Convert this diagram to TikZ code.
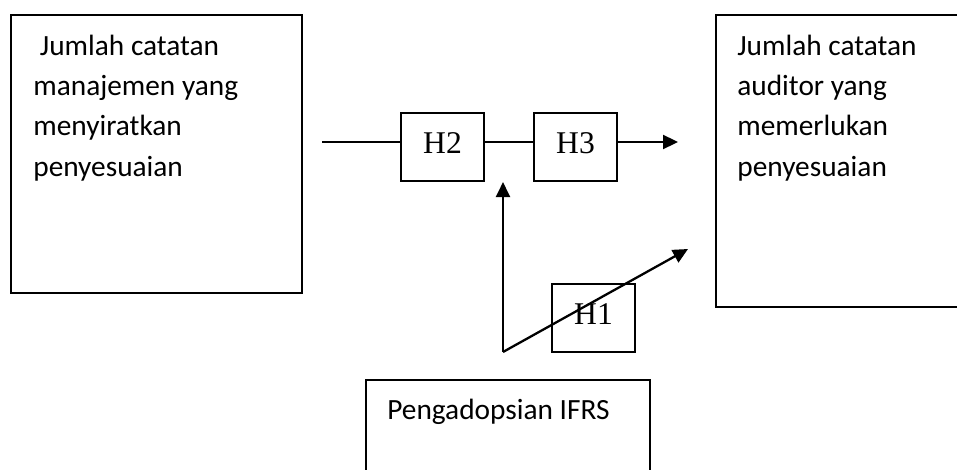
\documentclass[tikz,border=0pt]{standalone}
\usepackage{fontspec}
\setmainfont{Liberation Serif}
\newfontfamily\carlito{Carlito}
\usetikzlibrary{arrows.meta}

\begin{document}
\begin{tikzpicture}[x=0.02cm, y=-0.02cm,
block/.style={rectangle, draw=black, line width=1.2pt, inner sep=0pt},
block-big/.style={block, minimum width=5.82cm, minimum height=5.56cm},
block-h/.style={block, minimum width=1.66cm, minimum height=1.36cm,
text depth=0.16cm, font=\fontsize{18}{20}\selectfont},
blank/.style={anchor=base west, inner sep=0pt, align=left,
font=\carlito\fontsize{16.7}{22.8}\selectfont},
link/.style={line width=1.3pt},
arrow/.style={link, -{Triangle[length=0.3cm, width=0.28cm]}}
]
\useasboundingbox (0,0) rectangle (957,470);

% the three variable boxes (text nodes sit on their last baseline)
\node [block-big] (mgmt) at (156.5,154) {};
\node [blank] (mgmt-txt) at (33,176) {\ Jumlah catatan\\manajemen yang\\menyiratkan\\penyesuaian};
\node [block, minimum width=5.28cm, minimum height=5.84cm] (aud) at (848,161) {};
\node [blank] (aud-txt) at (737,176) {Jumlah catatan\\auditor yang\\memerlukan\\penyesuaian};
\node [block, minimum width=5.68cm, minimum height=2.2cm] (ifrs) at (508,435) {};
\node [blank] (ifrs-txt) at (387,419) {Pengadopsian IFRS};

% hypotheses
\node [block-h] (h2) at (442.5,147) {H2};
\node [block-h] (h3) at (575.5,147) {H3};
\node [block-h] (h1) at (593.5,318) {H1};

\coordinate (start) at (322,142);
\coordinate (end) at (678,142);
\coordinate (joint) at (503,352);
\coordinate (tip) at (688,249);

\draw [link] (start) -- (start -| h2.west);
\draw [link] (h2.east |- start) -- (h3.west |- start);
\draw [arrow] (h3.east |- start) -- (end);
\draw [arrow] (joint) -- (joint |- h2.south);
\draw [arrow] (joint) -- (tip);

\end{tikzpicture}
\end{document}
